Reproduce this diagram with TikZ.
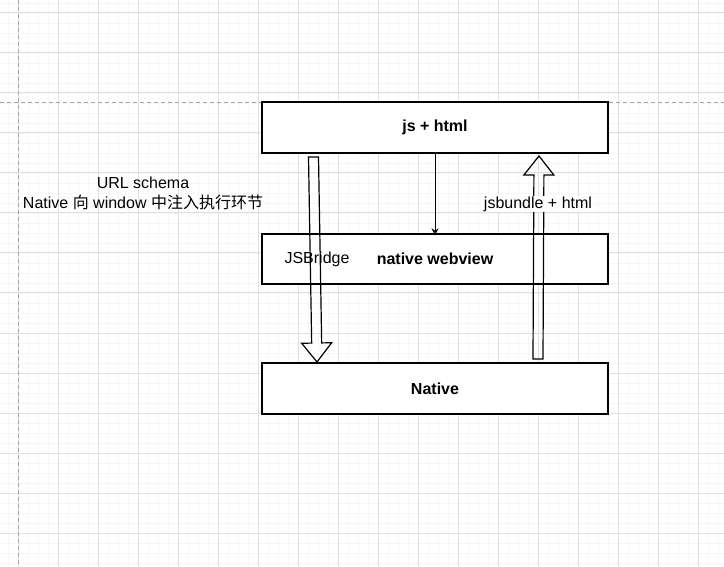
\documentclass[tikz,border=0pt]{standalone}
\usepackage{fontspec}
\setmainfont{Liberation Sans}
\newfontfamily\cjk{Noto Sans CJK SC}
\usetikzlibrary{calc,arrows.meta}
\tikzset{
  box/.style={draw=black, line width=1.3pt, fill=white, minimum width=346pt, inner sep=0pt, font=\fontsize{16pt}{20pt}\selectfont\bfseries},
  plain/.style={inner sep=0pt, align=center},
  blockarrow/.style={draw=black, line width=1.2pt, line join=miter},
  thinarrow/.style={draw=black, line width=1pt, -{Stealth[open,length=7pt,width=7pt]}},
  minorgrid/.style={draw=black!3, line width=0.7pt},
  majorgrid/.style={draw=black!12, line width=1pt},
  pagebreak/.style={draw=black!35, line width=0.9pt, dash pattern=on 4pt off 3pt}
}
\begin{document}
\begin{tikzpicture}[x=1pt,y=-1pt, font=\fontsize{16pt}{20pt}\selectfont]
\useasboundingbox (0,0) rectangle (724,567);
\fill[white] (0,0) rectangle (724,567);
% grid
\foreach \x in {8,18,...,718} \draw[minorgrid] (\x,0) -- (\x,567);
\foreach \y in {3,13,...,563} \draw[minorgrid] (0,\y) -- (724,\y);
\foreach \x in {18,58,...,698} \draw[majorgrid] (\x,0) -- (\x,567);
\foreach \y in {13,53,...,533} \draw[majorgrid] (0,\y) -- (724,\y);
% page breaks
\draw[pagebreak] (0,102) -- (724,102);
\draw[pagebreak] (18,0) -- (18,567);
% boxes
\node[box, minimum height=51pt] (js) at (435,127.5) {js + html};
\node[box, minimum height=50pt] (web) at (435,259) {native webview};
\node[box, minimum height=51pt] (nat) at (435,388.5) {Native};
\node[plain] (jsb) at (317,259) {JSBridge};
% thin arrow
\draw[thinarrow] (js.south) -- ([yshift=-2pt]web.north);
% down block arrow
\coordinate (d1) at (313.5,157);
\coordinate (d2) at (317,362);
\coordinate (dh) at ($(d2)!19pt!(d1)$);
\draw[blockarrow] ($(d1)!5pt!90:(d2)$) -- ($(dh)!5pt!90:(d2)$) -- ($(dh)!15pt!90:(d2)$) -- (d2)
  -- ($(dh)!15pt!-90:(d2)$) -- ($(dh)!5pt!-90:(d2)$) -- ($(d1)!5pt!-90:(d2)$) -- cycle;
% up block arrow
\coordinate (u1) at (538,359);
\coordinate (u2) at (539,156);
\coordinate (uh) at ($(u2)!19pt!(u1)$);
\draw[blockarrow] ($(u1)!5pt!90:(u2)$) -- ($(uh)!5pt!90:(u2)$) -- ($(uh)!15pt!90:(u2)$) -- (u2)
  -- ($(uh)!15pt!-90:(u2)$) -- ($(uh)!5pt!-90:(u2)$) -- ($(u1)!5pt!-90:(u2)$) -- cycle;
% labels
\node[plain, fill=white, inner sep=1pt] (jsbl) at (538,204) {jsbundle + html};
\node[plain] (url) at (143,193) {URL schema\\Native {\cjk 向} window {\cjk 中注入执行环节}};
\end{tikzpicture}
\end{document}
